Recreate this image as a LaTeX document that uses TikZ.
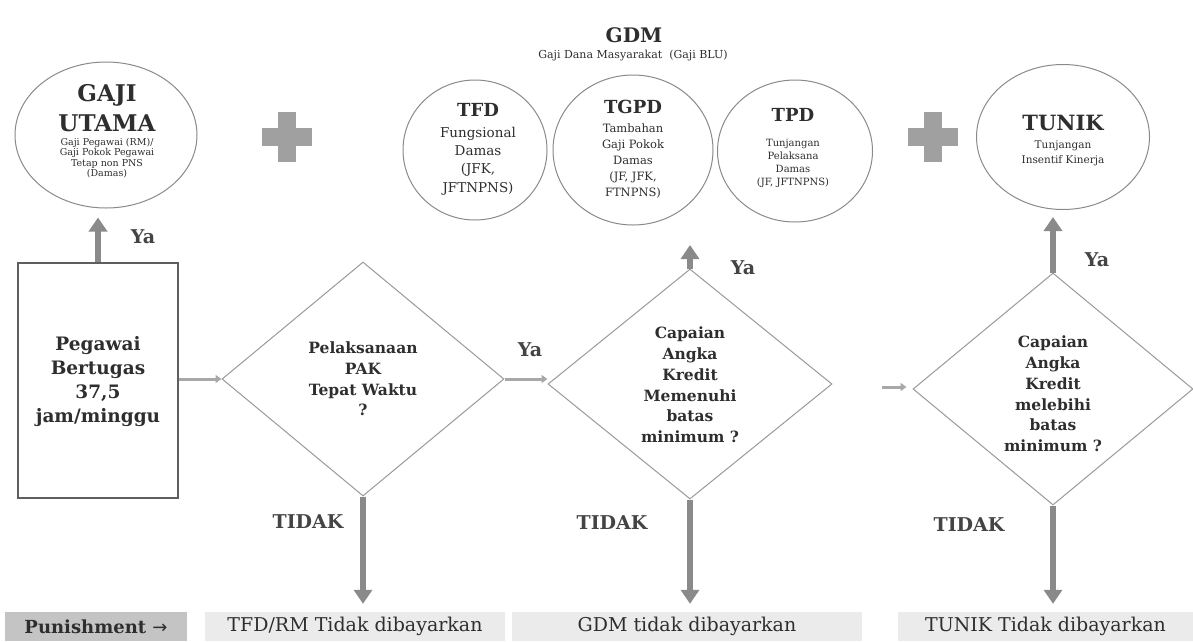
\documentclass[tikz,border=0pt]{standalone}
\usepackage{fontspec}
\setmainfont{DejaVu Serif}
\newfontfamily\arrowfont{DejaVu Sans}
\usetikzlibrary{shapes.geometric,arrows.meta,calc}
\definecolor{txt}{HTML}{2E2E2E}
\definecolor{lbl}{HTML}{444444}
\definecolor{arr}{HTML}{8A8A8A}
\definecolor{arrl}{HTML}{A8A8A8}
\definecolor{ellc}{HTML}{8A8A8A}
\definecolor{diac}{HTML}{9A9A9A}
\definecolor{boxc}{HTML}{5E5E5E}
\definecolor{plusc}{HTML}{A0A0A0}
\definecolor{pund}{HTML}{C4C4C4}
\definecolor{punl}{HTML}{EBEBEB}
\newcommand\myfs[2]{\fontsize{#1}{#2}\selectfont}
\begin{document}
\begin{tikzpicture}[x=1pt,y=-1pt,
  ell/.style={ellipse, draw=ellc, line width=1pt, inner sep=0pt},
  dia/.style={diamond, draw=diac, line width=1pt, inner sep=0pt},
  tx/.style={text=txt, align=center, inner sep=0pt},
  lab/.style={text=lbl, inner sep=0pt, font=\myfs{19}{20}\bfseries},
  bigarrow/.style={draw=arr, line width=6.5pt, -{Triangle[length=14pt,width=18pt]}},
  thinarrow/.style={draw=arrl, line width=3pt, -{Triangle[length=6pt,width=8pt]}},
  punbox/.style={inner sep=0pt, minimum height=29pt, text=txt, font=\myfs{19}{20}}
]
\useasboundingbox[fill=white] (0,0) rectangle (1193,641);

% ---------- GAJI UTAMA ----------
\node[ell, minimum width=182pt, minimum height=146pt] (gu) at (106,135) {};
\node[tx, font=\myfs{23}{30}\bfseries] (guT) at (107,108) {GAJI\\UTAMA};
\node[tx, font=\myfs{9.5}{10.5}] (guB) at (107,158) {Gaji Pegawai (RM)/\\Gaji Pokok Pegawai\\Tetap non PNS\\(Damas)};

% plus signs
\fill[plusc] (262,128) rectangle (312,146);
\fill[plusc] (278,112) rectangle (296,162);
\fill[plusc] (908,128) rectangle (958,146);
\fill[plusc] (924,112) rectangle (942,162);

% ---------- GDM ----------
\node[tx, font=\myfs{20}{22}\bfseries] (gdm) at (634,35) {GDM};
\node[tx, font=\myfs{11}{12}] (gdmS) at (633,56) {Gaji Dana Masyarakat\ \ (Gaji BLU)};

\node[ell, minimum width=144pt, minimum height=140pt] (tfd) at (475,150) {};
\node[tx, font=\myfs{18}{20}\bfseries] (tfdT) at (478,110) {TFD};
\node[tx, font=\myfs{13.5}{18.3}] (tfdB) at (478,161) {Fungsional\\Damas\\(JFK,\\JFTNPNS)};

\node[ell, minimum width=160pt, minimum height=150pt] (tgpd) at (633,150) {};
\node[tx, font=\myfs{18}{20}\bfseries] (tgpdT) at (633,107) {TGPD};
\node[tx, font=\myfs{11.5}{16}] (tgpdB) at (633,161) {Tambahan\\Gaji Pokok\\Damas\\(JF, JFK,\\FTNPNS)};

\node[ell, minimum width=155pt, minimum height=142pt] (tpd) at (795,151) {};
\node[tx, font=\myfs{18}{20}\bfseries] (tpdT) at (793,115) {TPD};
\node[tx, font=\myfs{10}{13}] (tpdB) at (793,163) {Tunjangan\\Pelaksana\\Damas\\(JF, JFTNPNS)};

% ---------- TUNIK ----------
\node[ell, minimum width=173pt, minimum height=145pt] (tu) at (1063,137) {};
\node[tx, font=\myfs{21}{22}\bfseries] (tuT) at (1063,123) {TUNIK};
\node[tx, font=\myfs{10.5}{15}] (tuB) at (1063,153) {Tunjangan\\Insentif Kinerja};

% ---------- Pegawai box ----------
\node[draw=boxc, line width=2.5pt, minimum width=160pt, minimum height=235pt, inner sep=0pt] (box) at (98,380.5) {};
\node[tx, font=\myfs{18.5}{24}\bfseries] (boxT) at (98,382) {Pegawai\\Bertugas\\37,5\\jam/minggu};

% ---------- diamonds ----------
\node[dia, minimum width=282pt, minimum height=234pt] (d1) at (363,379) {};
\node[tx, font=\myfs{15.5}{20.7}\bfseries] (d1T) at (363,379) {Pelaksanaan\\PAK\\Tepat Waktu\\?};

\node[dia, minimum width=284pt, minimum height=230pt] (d2) at (690,384) {};
\node[tx, font=\myfs{15.5}{20.8}\bfseries] (d2T) at (690,385) {Capaian\\Angka\\Kredit\\Memenuhi\\batas\\minimum ?};

\node[dia, minimum width=280pt, minimum height=232pt] (d3) at (1053,389) {};
\node[tx, font=\myfs{15.5}{20.8}\bfseries] (d3T) at (1053,394) {Capaian\\Angka\\Kredit\\melebihi\\batas\\minimum ?};

% ---------- punishment row ----------
\node[punbox, fill=pund, minimum width=182pt, font=\myfs{18}{20}\bfseries] (pun) at (96,626.5) {Punishment {\arrowfont\mdseries →}};
\node[punbox, fill=punl, minimum width=300pt] (pb1) at (355,626.5) {TFD/RM Tidak dibayarkan};
\node[punbox, fill=punl, minimum width=350pt] (pb2) at (687,626.5) {GDM tidak dibayarkan};
\node[punbox, fill=punl, minimum width=295pt] (pb3) at (1045.5,626.5) {TUNIK Tidak dibayarkan};

% ---------- connectors ----------
\draw[bigarrow, shorten >=9pt] (box.north) -- (box.north |- gu.south);
\node[lab] (ya1) at (143,237) {Ya};

\draw[thinarrow] (box.east |- d1.west) -- (d1.west);

\draw[thinarrow] (d1.east) -- (d1.east -| d2.west);
\node[lab] (ya2) at (530,350) {Ya};

\coordinate (d2up) at (690,245);
\draw[bigarrow] (d2.north) -- (d2up);
\node[lab] (ya3) at (743,268) {Ya};

\coordinate (m3) at (882,387);
\draw[thinarrow, shorten >=6pt] (m3) -- (m3 -| d3.west);

\draw[bigarrow, shorten >=7pt] (d3.north) -- (d3.north |- tu.south);
\node[lab] (ya4) at (1097,260) {Ya};

\draw[bigarrow, shorten >=8pt] (d1.south) -- (d1.south |- pb1.north);
\draw[bigarrow, shorten >=8pt] (d2.south) -- (d2.south |- pb2.north);
\draw[bigarrow, shorten >=8pt] (d3.south) -- (d3.south |- pb3.north);

\node[lab] (no1) at (308,522) {TIDAK};
\node[lab] (no2) at (612,523) {TIDAK};
\node[lab] (no3) at (969,525) {TIDAK};
\end{tikzpicture}
\end{document}
